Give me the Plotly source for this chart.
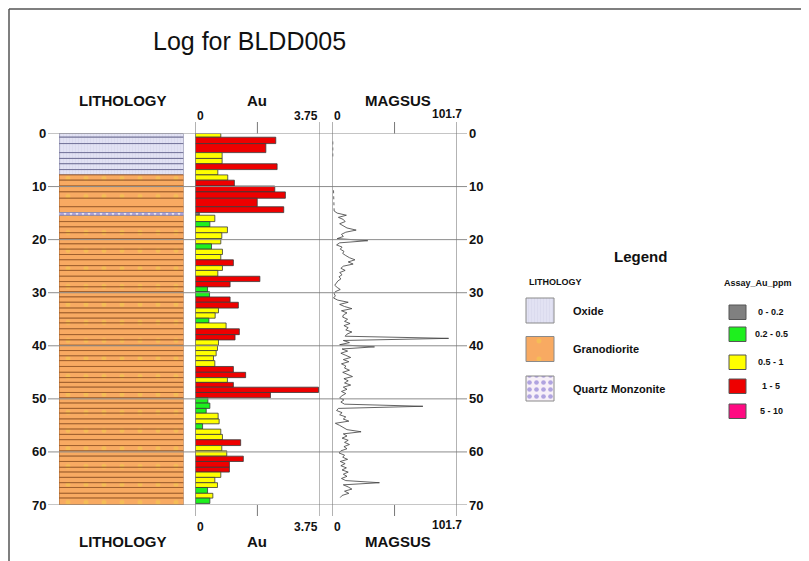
import plotly.graph_objects as go

# page body has an 8px margin, so the figure is offset by OFF px
OFF = 8
W, H = 809, 561
FW, FH = W - OFF, H - OFF
FONT = "Liberation Sans, Arial, sans-serif"

# ---- drillhole data (BLDD005) ---------------------------------------
# Au assay interval boundaries (m) and grades (ppm)
au_bounds = [0.0, 0.7, 1.9, 3.6, 4.7, 5.7, 6.8, 7.8, 8.8, 9.9, 11.0, 12.2, 13.8,
             14.9, 15.4, 16.6, 17.6, 18.7, 19.8, 20.8, 21.8, 22.8, 23.8, 24.9,
             25.8, 26.9, 27.9, 28.9, 29.8, 30.8, 31.8, 32.9, 33.8, 34.8, 35.7,
             36.8, 37.9, 38.9, 39.9, 40.9, 41.9, 42.8, 43.9, 45.0, 46.0, 46.9,
             47.8, 48.8, 49.8, 50.8, 51.8, 52.7, 53.8, 54.7, 55.7, 56.7, 57.7,
             58.8, 59.8, 60.8, 61.8, 62.9, 63.8, 64.8, 65.8, 66.7, 67.8, 68.7, 69.7]
au_ppm = [0.77, 2.43, 2.13, 0.81, 0.81, 2.47, 0.68, 0.98, 1.18, 2.40, 2.72, 1.87,
          2.67, 0.12, 0.59, 0.44, 0.97, 0.80, 0.77, 0.49, 0.82, 0.77, 1.15, 0.82,
          0.68, 1.95, 1.05, 0.37, 0.43, 1.05, 1.30, 0.70, 0.60, 0.41, 0.93, 1.33,
          1.20, 0.70, 0.67, 0.63, 0.55, 0.59, 1.15, 1.52, 0.97, 1.15, 3.72, 2.27,
          0.38, 0.44, 0.33, 0.69, 0.72, 0.22, 0.77, 0.82, 1.37, 0.80, 0.95, 1.45,
          1.03, 1.03, 0.77, 0.59, 0.67, 0.37, 0.53, 0.44]

# Lithology units
lith_top = [0.0, 7.8, 14.9, 15.4]
lith_base = [7.8, 14.9, 15.4, 70.0]
lith_rock = ["Oxide", "Granodiorite", "Quartz Monzonite", "Granodiorite"]

# Magnetic susceptibility readings
mag_depth = [14.6, 15.0, 15.4, 15.8, 16.2, 16.6, 17.0, 17.4, 17.8, 18.2,
             18.6, 19.0, 19.4, 19.8, 20.2, 20.6, 21.0, 21.4, 21.8, 22.2,
             22.6, 23.0, 23.4, 23.8, 24.2, 24.6, 25.0, 25.4, 25.8, 26.2,
             26.6, 27.0, 27.4, 27.8, 28.2, 28.6, 29.0, 29.4, 29.8, 30.2,
             30.6, 31.0, 31.4, 31.8, 32.2, 32.6, 33.0, 33.4, 33.8, 34.2,
             34.6, 35.0, 35.4, 35.8, 36.2, 36.6, 37.0, 37.4, 37.8, 38.2,
             38.6, 39.0, 39.4, 39.8, 40.2, 40.6, 41.0, 41.4, 41.8, 42.2,
             42.6, 43.0, 43.4, 43.8, 44.2, 44.6, 45.0, 45.4, 45.8, 46.2,
             46.6, 47.0, 47.4, 47.8, 48.2, 48.6, 49.0, 49.4, 49.8, 50.2,
             50.6, 51.0, 51.4, 51.8, 52.2, 52.6, 53.0, 53.4, 53.8, 54.2,
             54.6, 55.0, 55.4, 55.8, 56.2, 56.6, 57.0, 57.4, 57.8, 58.2,
             58.6, 59.0, 59.4, 59.8, 60.2, 60.6, 61.0, 61.4, 61.8, 62.2,
             62.6, 63.0, 63.4, 63.8, 64.2, 64.6, 65.0, 65.4, 65.8, 66.2,
             66.6, 67.0, 67.4, 67.8, 68.2, 68.6]
mag_value = [1.5, 4.0, 11.5, 5.0, 9.0, 10.5, 6.0, 8.5, 12.0, 19.5,
             11.0, 7.5, 9.0, 4.0, 29.0, 6.0, 3.5, 8.0, 6.5, 9.5,
             8.5, 11.0, 14.0, 18.5, 13.0, 17.0, 9.0, 7.0, 10.5, 6.0,
             8.0, 5.5, 7.0, 4.5, 3.0, 2.0, 4.0, 6.5, 2.5, 1.5,
             2.5, 1.0, 4.5, 13.0, 6.0, 10.0, 16.0, 7.5, 12.0, 9.0,
             8.5, 12.5, 10.0, 14.5, 9.5, 13.0, 11.0, 16.0, 12.0, 10.5,
             95.0, 9.0, 14.0, 6.0, 34.5, 8.0, 12.5, 7.0, 11.0, 15.0,
             9.0, 13.5, 7.5, 11.0, 10.0, 14.0, 8.5, 12.5, 16.5, 9.5,
             13.0, 10.0, 15.0, 9.0, 12.0, 7.5, 11.0, 8.0, 6.0, 9.5,
             7.0, 10.0, 74.0, 5.0, 3.5, 8.0, 6.0, 11.0, 9.0, 13.5,
             2.5, 6.0, 9.0, 12.0, 23.5, 9.0, 12.0, 8.0, 13.0, 10.0,
             14.0, 9.5, 12.0, 7.0, 5.5, 10.0, 8.5, 12.5, 6.5, 10.5,
             7.0, 11.5, 8.0, 13.0, 9.0, 12.0, 7.5, 11.0, 38.5, 9.0,
             13.0, 16.0, 10.0, 13.5, 8.0, 6.5]
# sparse near-zero readings in the upper hole
mag_top_depth = [1.5, 4.9, None, 10.7, 14.6]
mag_top_value = [0.4, 0.4, None, 1.0, 1.5]

# Axis ranges / ticks
depth_ticks = [0, 10, 20, 30, 40, 50, 60, 70]
au_range = [0, 3.75]
mag_range = [0, 101.7]

# Assay legend classes
assay_bins = [0, 0.2, 0.5, 1, 5, 10]
assay_labels = ["0 - 0.2", "0.2 - 0.5", "0.5 - 1", "1 - 5", "5 - 10"]
assay_colors = ["#808080", "#1EF01E", "#FFFF00", "#EE0000", "#FF0A82"]

lith_style = {
    "Oxide": dict(color="#E2E2F3", line="#74749A",
                  pattern=dict(shape="|", fgcolor="#D2D2EA", size=3, solidity=0.3)),
    "Granodiorite": dict(color="#F8AA62", line="#A0602E",
                         pattern=dict(shape=".", fgcolor="#F2CF4A", size=18, solidity=0.06)),
    "Quartz Monzonite": dict(color="#F7F0F8", line="#8C8CB0",
                             pattern=dict(shape=".", fgcolor="#6A58C8", size=6, solidity=0.45)),
}


def grade_color(v):
    for hi, c in zip(assay_bins[1:], assay_colors):
        if v < hi:
            return c
    return assay_colors[-1]


def rock_at(d):
    for t, b, r in zip(lith_top, lith_base, lith_rock):
        if t <= d < b:
            return r
    return lith_rock[-1]


# screen pixel -> paper fraction
def px(x):
    return (x - OFF) / FW


def py(y):
    return 1 - (y - OFF) / FH


# interval geometry
tops = au_bounds[:-1]
bases = au_bounds[1:]
mids = [(a + b) / 2 for a, b in zip(tops, bases)]
thick = [b - a for a, b in zip(tops, bases)]

fig = go.Figure()

# ---- lithology column (segmented at sample boundaries) -----------------
seg_base = bases[:-1] + [max(lith_base)]
seg_mid = [(a + b) / 2 for a, b in zip(tops, seg_base)]
seg_thick = [b - a for a, b in zip(tops, seg_base)]
for rock, st in lith_style.items():
    idx = [i for i, m in enumerate(seg_mid) if rock_at(m) == rock]
    fig.add_trace(go.Bar(
        x=[1] * len(idx), y=[seg_mid[i] for i in idx], width=[seg_thick[i] for i in idx],
        orientation="h", xaxis="x", yaxis="y",
        marker=dict(color=st["color"], line=dict(color=st["line"], width=1),
                    pattern=st["pattern"]),
        showlegend=False, hoverinfo="skip",
    ))

# ---- Au bars --------------------------------------------------------
fig.add_trace(go.Bar(
    x=au_ppm, y=mids, width=thick, orientation="h", xaxis="x2", yaxis="y",
    marker=dict(color=[grade_color(v) for v in au_ppm],
                line=dict(color="#3a3a3a", width=0.8)),
    showlegend=False, hovertemplate="%{y:.1f} m: %{x:.2f} ppm<extra></extra>",
))

# ---- MAGSUS trace ---------------------------------------------------
fig.add_trace(go.Scatter(
    x=mag_top_value, y=mag_top_depth, xaxis="x3", yaxis="y", mode="lines",
    line=dict(color="#666", width=1, dash="dot"), showlegend=False, hoverinfo="skip",
))
fig.add_trace(go.Scatter(
    x=mag_value, y=mag_depth, xaxis="x3", yaxis="y", mode="lines",
    line=dict(color="#3c3c3c", width=0.8), showlegend=False,
))

# ---- legend swatches for lithology (pattern bars on pixel canvas) ----
leg_rocks = ["Oxide", "Granodiorite", "Quartz Monzonite"]
leg_rock_y = [310.5, 349.0, 388.5]
for rock, yc in zip(leg_rocks, leg_rock_y):
    st = lith_style[rock]
    pat = dict(st["pattern"])
    if rock == "Quartz Monzonite":
        pat.update(size=7, solidity=0.35)
    fig.add_trace(go.Bar(
        x=[28], base=[526], y=[yc], width=[25], orientation="h",
        xaxis="x5", yaxis="y5",
        marker=dict(color=st["color"], line=dict(color="#8a8a8a", width=1), pattern=pat),
        showlegend=False, hoverinfo="skip",
    ))

shapes = []
# frame
shapes.append(dict(type="line", xref="x5", yref="y5", x0=9, x1=W, y0=9, y1=9,
                   line=dict(color="#555", width=1.5)))
shapes.append(dict(type="line", xref="x5", yref="y5", x0=9, x1=9, y0=9, y1=H,
                   line=dict(color="#555", width=1.5)))
# depth grid lines
for d in depth_ticks:
    shapes.append(dict(type="line", xref="x5", yref="y", x0=48, x1=467, y0=d, y1=d,
                       line=dict(color="#8c8c8c", width=1), layer="above"))
# track borders and mid ticks
for ax, rng in (("x2", au_range), ("x3", mag_range)):
    for v in rng:
        shapes.append(dict(type="line", xref=ax, yref="y5", x0=v, x1=v, y0=122, y1=516,
                           line=dict(color="#777", width=1), layer="above"))
    mid = (rng[0] + rng[1]) / 2
    for y0, y1 in ((122, 133.5), (505, 516)):
        shapes.append(dict(type="line", xref=ax, yref="y5", x0=mid, x1=mid, y0=y0, y1=y1,
                           line=dict(color="#777", width=1)))
# assay legend swatches
assay_y = [305, 327, 355, 379, 404]
for yy, c in zip(assay_y, assay_colors):
    shapes.append(dict(type="rect", xref="x5", yref="y5", x0=729, x1=746, y0=yy, y1=yy + 14.5,
                       fillcolor=c, line=dict(color="#555", width=1)))

ann = []


def label(text, x, y, size, xanchor="center", bold=True, xref="x5", yref="y5", color="#111"):
    ann.append(dict(text=text, x=x, y=y, xref=xref, yref=yref, showarrow=False,
                    xanchor=xanchor, yanchor="middle",
                    font=dict(family=FONT, size=size, color=color,
                              weight="bold" if bold else "normal")))


label("Log for BLDD005", 249, 41, 25, bold=False)
for y in (100, 541):
    label("LITHOLOGY", 123, y, 15)
    label("Au", 257, y, 15)
    label("MAGSUS", 398, y, 15)
for y in (116, 527):
    label(f"{au_range[0]:g}", au_range[0], y, 12, xanchor="left", xref="x2")
    label(f"{au_range[1]:g}", au_range[1], y, 12, xanchor="right", xref="x2")
    label(f"{mag_range[0]:g}", mag_range[0], y, 12, xanchor="left", xref="x3")
    label(f"{mag_range[1]:g}", mag_range[1] - 8, y - 2, 12, xref="x3")
for d in depth_ticks:
    label(str(d), 48, d, 13, xanchor="right", yref="y")
    label(str(d), 467, d, 13, xanchor="left", yref="y")

# legend text
label("Legend", 640, 256, 15)
label("LITHOLOGY", 527, 282, 9, xanchor="left")
label("Assay_Au_ppm", 758, 283, 9)
for rock, yc in zip(leg_rocks, leg_rock_y):
    label(rock, 571, yc, 11, xanchor="left")
for yy, t in zip(assay_y, assay_labels):
    label(t, 771, yy + 7, 9)

hidden = dict(visible=False, showgrid=False, zeroline=False, fixedrange=True)
fig.update_layout(
    width=FW, height=FH,
    margin=dict(l=0, r=0, t=0, b=0),
    paper_bgcolor="white", plot_bgcolor="rgba(0,0,0,0)",
    barmode="overlay",
    showlegend=False,
    xaxis=dict(domain=[px(59), px(183.5)], range=[0, 1], anchor="y", **hidden),
    xaxis2=dict(domain=[px(195.3), px(319.5)], range=au_range, anchor="y", **hidden),
    xaxis3=dict(domain=[px(332.3), px(456.8)], range=mag_range, anchor="y", **hidden),
    yaxis=dict(domain=[py(505), py(133.5)], range=[70, 0], anchor="x", **hidden),
    xaxis5=dict(domain=[0, 1], range=[OFF, W], anchor="y5", **hidden),
    yaxis5=dict(domain=[0, 1], range=[H, OFF], anchor="x5", **hidden),
    shapes=shapes,
    annotations=ann,
)

fig.write_html("out.html")
